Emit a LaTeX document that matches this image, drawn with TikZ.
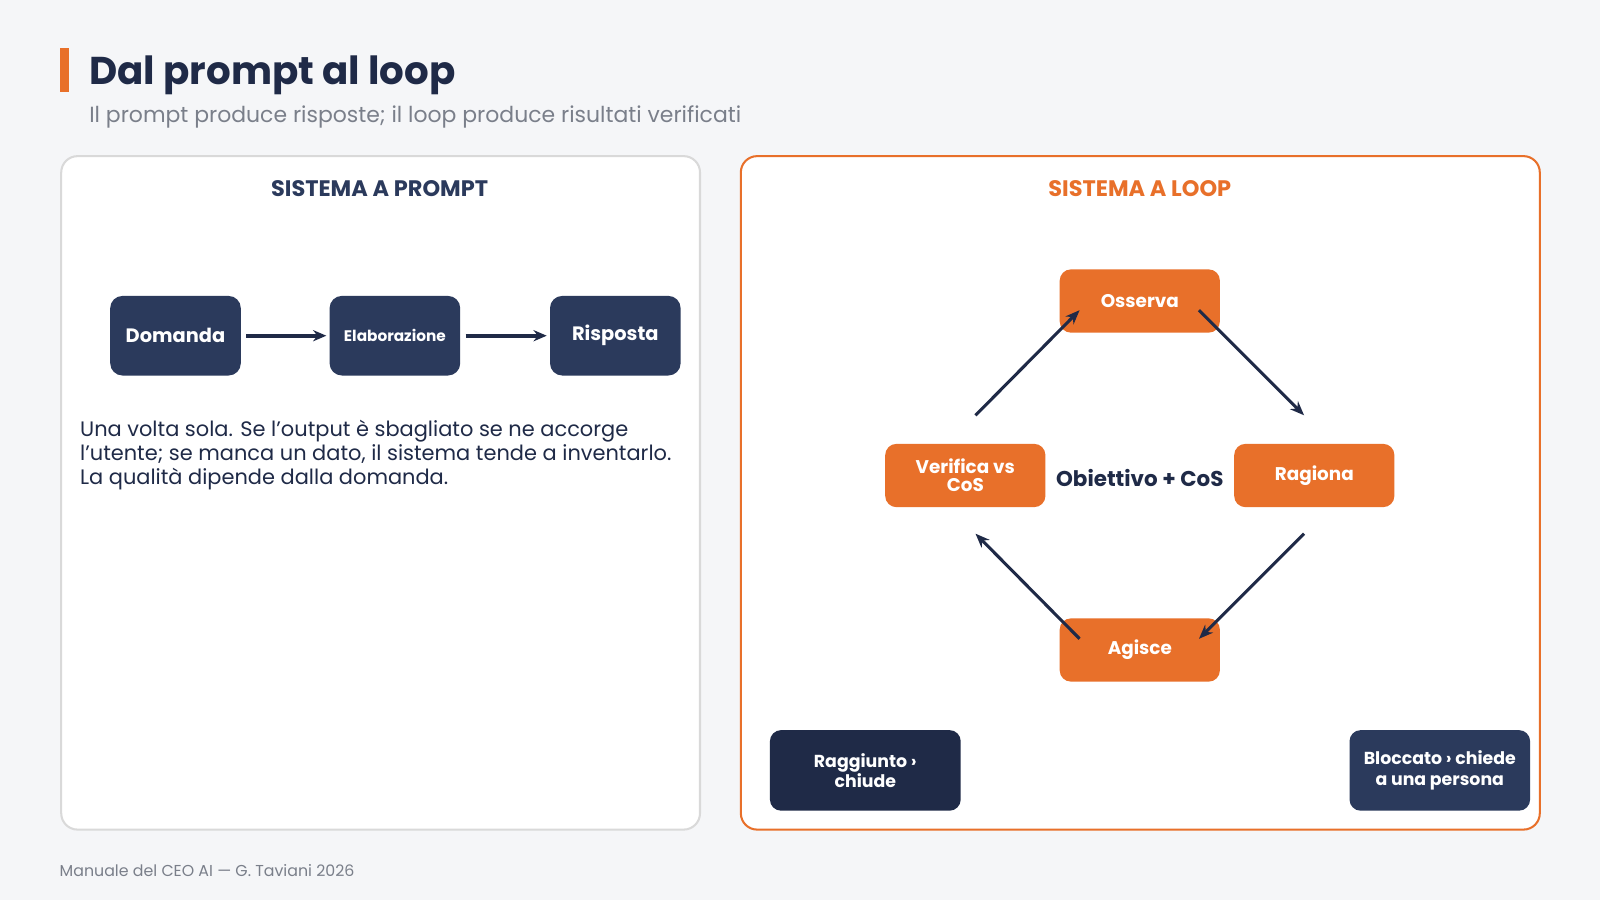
\documentclass[tikz,border=0pt]{standalone}
\usepackage{fontspec}
\setmainfont{Poppins}
\usetikzlibrary{arrows.meta}
\definecolor{bg}{HTML}{F5F6F8}
\definecolor{navy}{HTML}{2B3A5C}
\definecolor{dnavy}{HTML}{1F2A47}
\definecolor{org}{HTML}{E8702A}
\definecolor{gr}{HTML}{7A7F8A}
\begin{document}
\begin{tikzpicture}[x=1pt,y=-1pt,
 dbox/.style={fill=navy,rounded corners=12pt,minimum width=128pt,minimum height=78pt,text=white,font=\fontsize{19}{20}\selectfont\bfseries,align=center},
 obox/.style={fill=org,rounded corners=11pt,minimum width=157pt,minimum height=62pt,text=white,font=\fontsize{18}{19}\selectfont\bfseries,align=center},
 arr/.style={draw=dnavy,line width=4pt,shorten <=5pt,shorten >=3pt,-{Stealth[length=13pt,width=11pt]}},
 carr/.style={draw=dnavy,line width=3pt,-{Stealth[length=14pt,width=11pt]}}]
\fill[bg] (0,0) rectangle (1568,882);
\useasboundingbox (0,0) rectangle (1568,882);
\fill[org] (59,47) rectangle (68,90);
\node[anchor=west,text=dnavy,font=\fontsize{38}{42}\selectfont\bfseries] (title) at (84,74) {Dal prompt al loop};
\node[anchor=west,text=gr,font=\fontsize{21.5}{24}\selectfont] (sub) at (84,115) {Il prompt produce risposte; il loop produce risultati verificati};
\draw[draw=black!15,fill=white,line width=2pt,rounded corners=16pt] (60,153) rectangle (686,813);
\draw[draw=org,fill=white,line width=2pt,rounded corners=16pt] (726,153) rectangle (1509,813);
\node[text=navy,font=\fontsize{22}{24}\selectfont\bfseries] (h1) at (372,185) {SISTEMA A PROMPT};
\node[text=org,font=\fontsize{22}{24}\selectfont\bfseries] (h2) at (1117,185) {SISTEMA A LOOP};
\node[dbox] (dom) at (172,329) {Domanda};
\node[dbox,font=\fontsize{15}{16}\selectfont\bfseries] (ela) at (387,329) {Elaborazione};
\node[dbox] (ris) at (603,329) {Risposta\vphantom{g}};
\draw[arr] (dom) -- (ela);
\draw[arr] (ela) -- (ris);
\node[anchor=north west,align=left,text=dnavy,font=\fontsize{20.5}{23.5}\selectfont] (txt) at (75,408) {Una volta sola. Se l'output è sbagliato se ne accorge\\l'utente; se manca un dato, il sistema tende a inventarlo.\\La qualità dipende dalla domanda.};
\node[obox] (oss) at (1117,295) {Osserva};
\node[obox] (rag) at (1288,466) {Ragiona\vphantom{O}};
\node[obox] (agi) at (1117,637) {Agisce};
\node[obox] (ver) at (946,466) {Verifica vs\\[-1pt]CoS};
\node[text=dnavy,font=\fontsize{21}{23}\selectfont\bfseries] (obj) at (1117,468) {Obiettivo + CoS};
\coordinate (a1) at (956,407); \coordinate (a2) at (1058,304);
\coordinate (b1) at (1175,304); \coordinate (b2) at (1278,407);
\coordinate (c1) at (1278,523); \coordinate (c2) at (1175,626);
\coordinate (d1) at (1058,626); \coordinate (d2) at (956,523);
\draw[carr] (a1) -- (a2);
\draw[carr] (b1) -- (b2);
\draw[carr] (c1) -- (c2);
\draw[carr] (d1) -- (d2);
\node[fill=dnavy,rounded corners=11pt,minimum width=187pt,minimum height=79pt,text=white,font=\fontsize{17}{20}\selectfont\bfseries,align=center] (rag2) at (848,755) {Raggiunto ›\\chiude};
\node[fill=navy,rounded corners=11pt,minimum width=177pt,minimum height=79pt,text=white,font=\fontsize{17}{20}\selectfont\bfseries,align=center] (blo) at (1411,755) {Bloccato › chiede\\a una persona};
\node[anchor=west,text=gr,font=\fontsize{15.5}{18}\selectfont] (foot) at (55,853) {Manuale del CEO AI — G. Taviani 2026};
\end{tikzpicture}
\end{document}
